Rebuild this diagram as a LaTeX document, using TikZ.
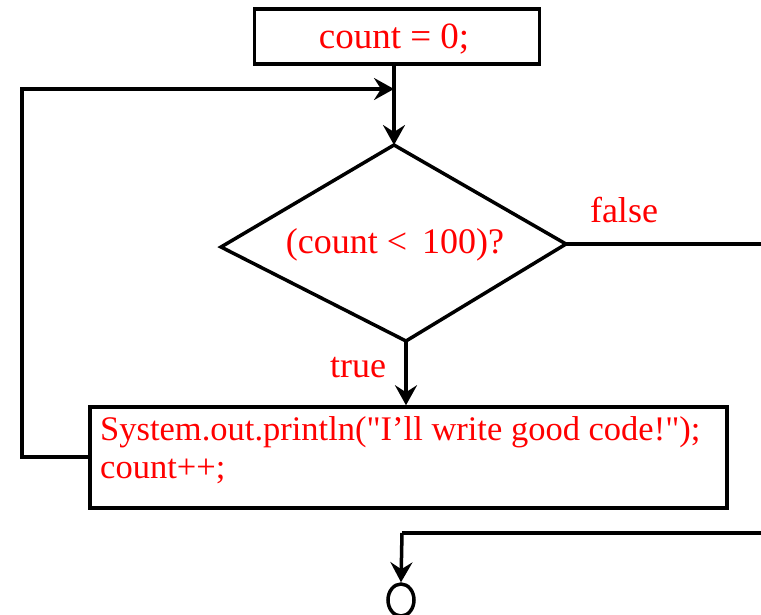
\documentclass[tikz,border=0pt]{standalone}
\usepackage{fontspec}
\setmainfont{Liberation Serif}
% plain family without TeX ligatures, so " stays a straight quote
\newfontfamily\plainserif{Liberation Serif}
\usetikzlibrary{arrows.meta,shapes.geometric}
\definecolor{codered}{RGB}{255,0,0}
\tikzset{
  flow/.style={line width=3.5pt, line join=miter},
  arr/.style={flow, -{Stealth[length=20pt,width=22pt,inset=7pt]}},
  box/.style={draw, line width=3.5pt, rectangle, inner sep=0pt},
  lbl/.style={text=codered, inner sep=0pt, anchor=base},
}
\begin{document}
\begin{tikzpicture}[x=1pt,y=-1pt]
  \useasboundingbox (0,0) rectangle (761,614);

  % initialisation
  \node[box, minimum width=285pt, minimum height=55pt] (init) at (397,36.5) {};
  \node[lbl, font=\plainserif\fontsize{37}{42}\selectfont] (initText) at (394,48) {count = 0;};

  % decision
  \coordinate (dTop) at (394,145);
  \coordinate (dLeft) at (221,247);
  \coordinate (dRight) at (566,244);
  \coordinate (dBottom) at (406,341);
  \draw[flow] (dTop) -- (dRight) -- (dBottom) -- (dLeft) -- cycle;
  \node[lbl, font=\plainserif\fontsize{36}{40}\selectfont] (cond) at (395,253)
        {(count < \,100)?};

  % loop body
  \node[box, minimum width=637pt, minimum height=101pt] (body) at (408.5,457.5) {};
  \node[lbl, anchor=base west, font=\plainserif\fontsize{34.5}{38}\selectfont]
        (bodyLine1) at (100,440) {System.out.println("I’ll write good code!");};
  \node[lbl, anchor=base west, font=\plainserif\fontsize{34.5}{38}\selectfont]
        (bodyLine2) at (100,478) {count++;};

  % branch labels
  \node[lbl, font=\plainserif\fontsize{36}{40}\selectfont] (falseLbl) at (624,222) {false};
  \node[lbl, font=\plainserif\fontsize{36}{40}\selectfont] (trueLbl) at (358,377) {true};

  % exit marker
  \node[draw, line width=3.5pt, ellipse, minimum width=26pt, minimum height=32pt,
        inner sep=0pt] (exit) at (401,600) {};

  % connectors
  \coordinate (merge) at (init.south |- 0,89);
  \coordinate (loopBL) at (22,457);
  \coordinate (loopTL) at (22,89);
  \coordinate (falseEnd) at (761,244);
  \coordinate (inEnd) at (761,533);
  \coordinate (inCorner) at (402,533);

  \draw[arr] (init.south -| dTop) -- (dTop);
  \draw[arr] (body.west |- loopBL) -- (loopBL) -- (loopTL) -- (merge -| dTop);
  \draw[flow] (dRight) -- (falseEnd);
  \draw[arr] (dBottom) -- (dBottom |- body.north);
  \draw[flow] (inEnd) -- (inCorner);
  \draw[arr] (inCorner) -- (exit.north);
\end{tikzpicture}
\end{document}
